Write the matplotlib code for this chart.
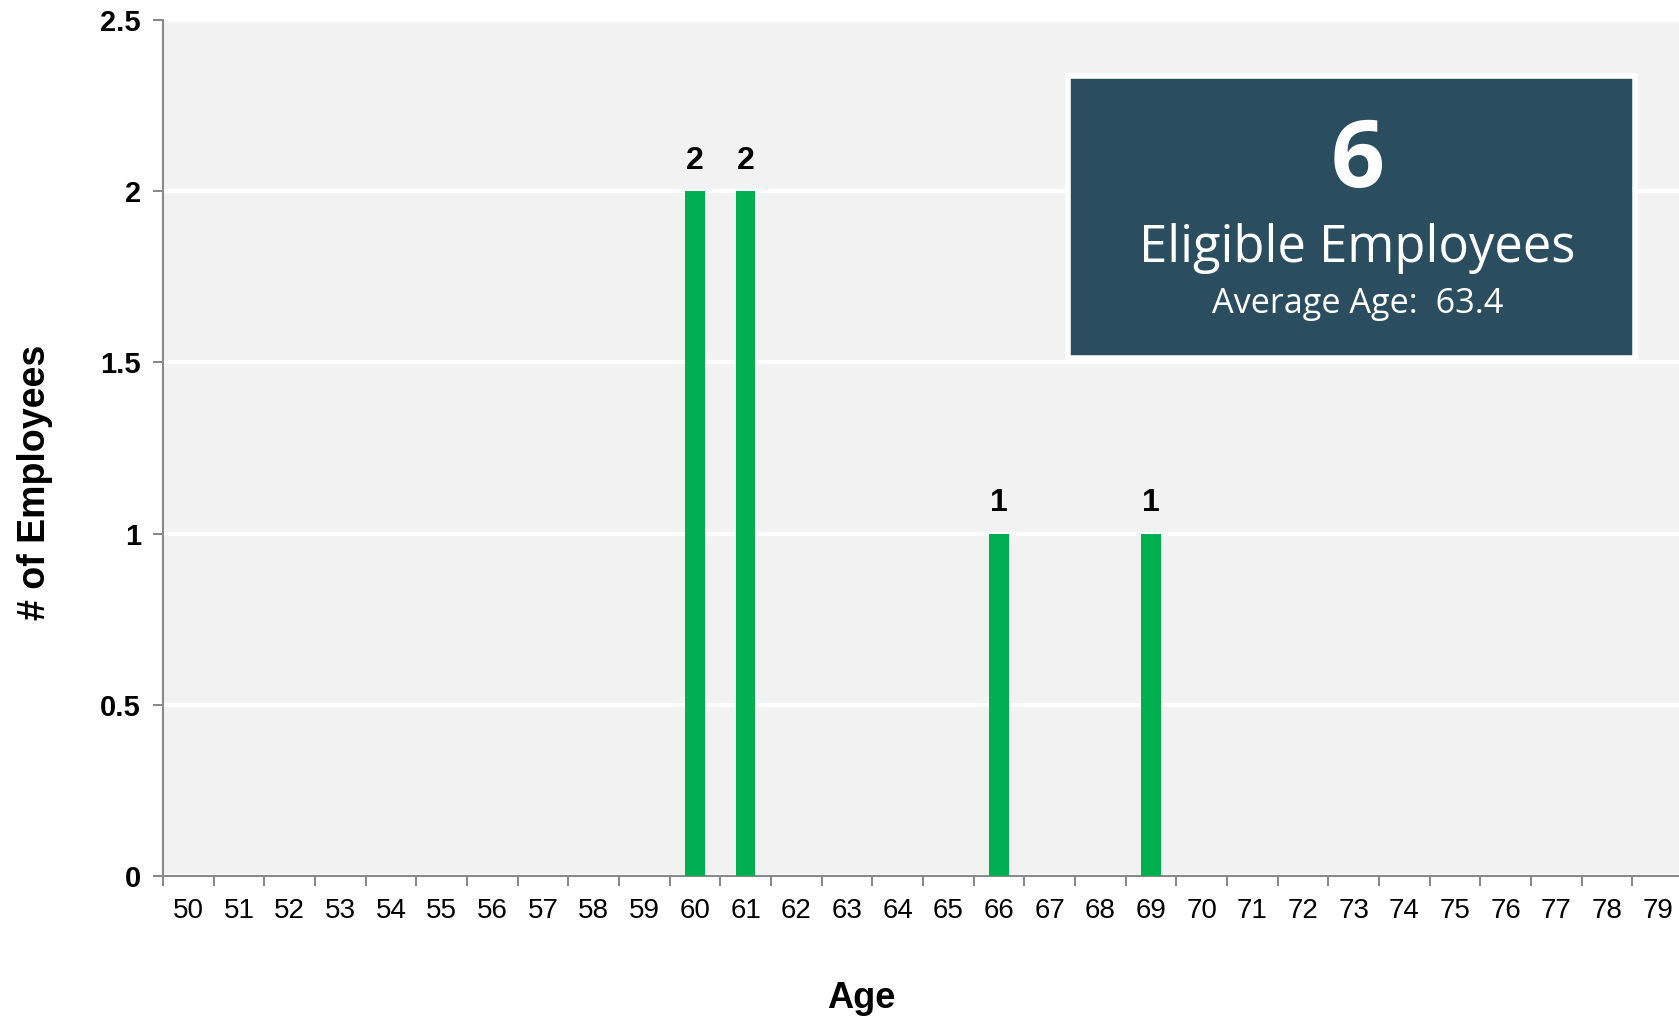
import matplotlib
matplotlib.use("Agg")
import matplotlib.pyplot as plt
import matplotlib.patches as patches
import numpy as np

# data
ages = list(range(50, 80))
counts = [0] * 30
counts[ages.index(60)] = 2
counts[ages.index(61)] = 2
counts[ages.index(66)] = 1
counts[ages.index(69)] = 1
total_eligible = 6
average_age = 63.4

W, H = 1679, 1021
fig = plt.figure(figsize=(W / 100, H / 100), dpi=100)
fig.patch.set_facecolor("white")

ax = fig.add_axes([163 / W, 1 - 876 / H, 1520 / W, (876 - 20) / H])
ax.set_facecolor("#f2f2f2")

x = np.arange(len(ages))
bars = ax.bar(x, counts, width=0.38, color="#00b050", zorder=3)

# value labels only where there is a bar
for xi, c in zip(x, counts):
    if c > 0:
        ax.annotate(str(c), (xi, c), xytext=(0, 11), textcoords="offset points",
                    ha="center", va="bottom", fontsize=23, fontweight="bold",
                    family="Liberation Sans", color="black")

ax.set_xlim(-0.5, len(ages) - 0.5)
ax.set_ylim(0, 2.5)

# ticks at category edges, labels at centers
ax.set_xticks(np.arange(-0.5, len(ages), 1.0))
ax.set_xticklabels([])
ax.set_xticks(x, minor=True)
ax.set_xticklabels([str(a) for a in ages], minor=True)
ax.tick_params(axis="x", which="major", length=7, width=1.5, color="#898989", direction="out")
ax.tick_params(axis="x", which="minor", length=0, pad=16, labelsize=20)
for lbl in ax.get_xticklabels(minor=True):
    lbl.set_family("Liberation Sans")

ax.set_yticks([0, 0.5, 1, 1.5, 2, 2.5])
ax.set_yticklabels(["0", "0.5", "1", "1.5", "2", "2.5"])
ax.tick_params(axis="y", length=7, width=1.5, color="#898989", pad=9, labelsize=21)
for lbl in ax.get_yticklabels():
    lbl.set_family("Liberation Sans")
    lbl.set_fontweight("bold")

ax.grid(axis="y", color="white", linewidth=3, zorder=1)
ax.set_axisbelow(True)

for s in ["top", "right"]:
    ax.spines[s].set_visible(False)
for s in ["left", "bottom"]:
    ax.spines[s].set_color("#898989")
    ax.spines[s].set_linewidth(1.5)

fig.text(35 / W, 1 - 482 / H, "# of Employees", rotation=90, ha="center", va="center",
         fontsize=27, fontweight="bold", family="Liberation Sans")
fig.text(861 / W, 1 - 998 / H, "Age", ha="center", va="center",
         fontsize=26, fontweight="bold", family="Liberation Sans")

# summary box
bx0, by0, bx1, by1 = 1068, 76, 1635, 358
box = patches.Rectangle((bx0 / W, 1 - by1 / H), (bx1 - bx0) / W, (by1 - by0) / H,
                        transform=fig.transFigure, facecolor="#2a4e60",
                        edgecolor="white", linewidth=4, zorder=5)
fig.patches.append(box)
cx = (bx0 + bx1) / 2 / W + 6 / W
fig.text(cx, 1 - 162 / H, str(total_eligible), ha="center", va="center",
         fontsize=68, fontweight="bold", family="Open Sans", color="white", zorder=6)
fig.text(cx, 1 - 249 / H, "Eligible Employees", ha="center", va="center",
         fontsize=36.5, family="Open Sans", color="white", zorder=6)
fig.text(cx, 1 - 304 / H, f"Average Age:  {average_age}", ha="center", va="center",
         fontsize=24.7, family="Open Sans", color="white", zorder=6)

fig.savefig("out.png", dpi=100, facecolor="white")
